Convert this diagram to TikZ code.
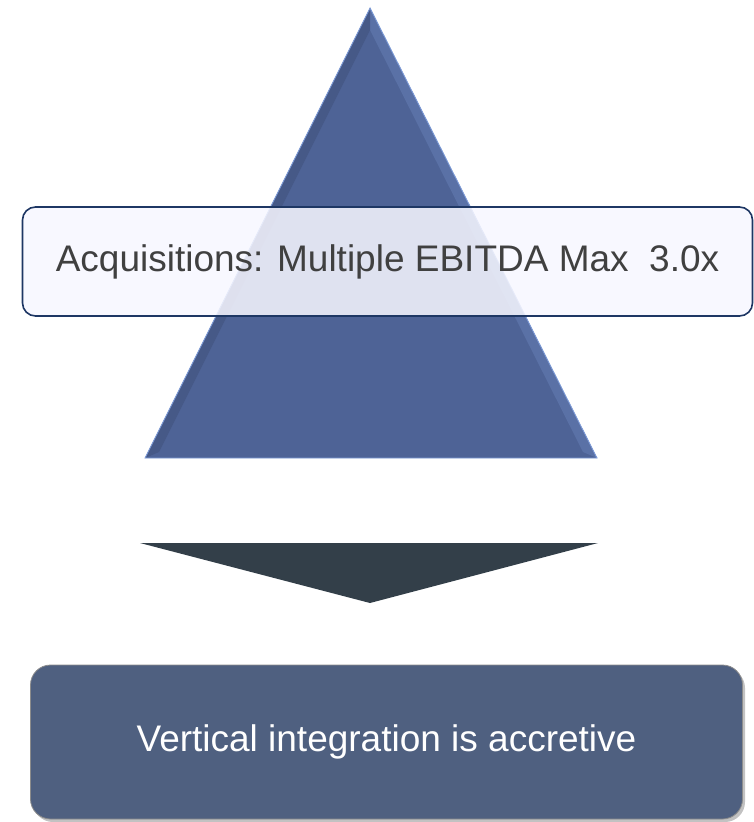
\documentclass[tikz,border=0pt]{standalone}
\usepackage{fontspec}
\setmainfont{Liberation Sans}
\usetikzlibrary{positioning,shadows,calc}
\definecolor{pyrBlue}{RGB}{78,99,150}
\definecolor{pyrEdge}{RGB}{125,155,215}
\definecolor{boxNavy}{RGB}{30,55,100}
\definecolor{chevDark}{RGB}{51,63,73}
\definecolor{resSlate}{RGB}{79,96,128}
\definecolor{txtGray}{RGB}{64,64,64}

\begin{document}
\begin{tikzpicture}[x=1pt, y=-1pt,
    lbl/.style={rectangle, rounded corners=13pt, draw=boxNavy, line width=1.6pt,
                fill=white!97!blue, fill opacity=0.86, text opacity=1,
                minimum width=730pt, minimum height=109pt,
                font=\fontsize{37}{40}\selectfont, text=txtGray},
    res/.style={rectangle, rounded corners=20pt, fill=resSlate, draw=black!45, line width=0.8pt,
                minimum width=712pt, minimum height=154pt,
                font=\fontsize{37}{40}\selectfont, text=white,
                drop shadow={shadow xshift=2.5pt, shadow yshift=-3pt, opacity=0.4, fill=black!60}}
  ]
  \useasboundingbox (0,0) rectangle (753,822);

  % Pyramid
  \coordinate (apex)  at (370,8);
  \coordinate (baseL) at (145,458);
  \coordinate (baseR) at (597,458);
  \fill[pyrBlue] (apex) -- (baseR) -- (baseL) -- cycle;
  \fill[pyrEdge!25!pyrBlue] (apex) -- (baseR) -- ($(baseR)+(-14,-6)$) -- ($(apex)+(0,22)$) -- cycle;
  \fill[black!10!pyrBlue] (apex) -- ($(apex)+(0,22)$) -- ($(baseL)+(14,-6)$) -- (baseL) -- cycle;
  \draw[pyrEdge, line width=0.9pt] (apex) -- (baseR) -- (baseL) -- cycle;

  % Label across the pyramid
  \node[lbl] (acq) at (387.5,261.5) {Acquisitions: Multiple EBITDA Max \ 3.0x};

  % Down chevron
  \coordinate (chevL)   at (140,543);
  \coordinate (chevR)   at (598,543);
  \coordinate (chevTip) at (370,603);
  \fill[chevDark] (chevL) -- (chevR) -- (chevTip) -- cycle;

  % Result
  \node[res] (vert) at (386.5,742) {Vertical integration is accretive};
\end{tikzpicture}
\end{document}
